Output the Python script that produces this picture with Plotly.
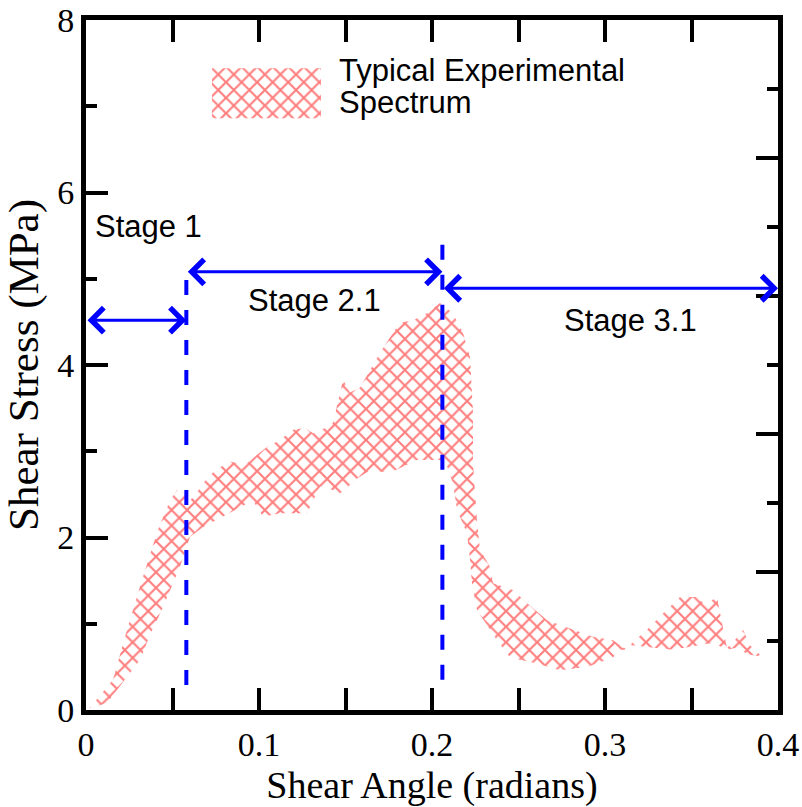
import plotly.graph_objects as go

# Upper and lower edges of the typical experimental band (shear angle in rad, stress in MPa)
upper_x = [0.002, 0.0156, 0.0237, 0.0324, 0.0416, 0.0486, 0.0526, 0.056, 0.059, 0.063,
           0.0676, 0.0746, 0.0832, 0.0919, 0.0965, 0.1046, 0.1121, 0.1197, 0.1266, 0.1312,
           0.1382, 0.1428, 0.1486, 0.1526, 0.1584, 0.1642, 0.1699, 0.1757, 0.1815, 0.189,
           0.1971, 0.2046, 0.2121, 0.2179, 0.222, 0.2237, 0.2237, 0.226, 0.2277, 0.2335,
           0.2353, 0.2468, 0.2549, 0.2665, 0.278, 0.2931, 0.3046, 0.3087, 0.3127, 0.3162,
           0.3243, 0.3335, 0.3434, 0.3532, 0.3578, 0.3647, 0.3682, 0.3705, 0.375, 0.3798,
           0.3838, 0.3896, 0.3942]
upper_y = [0.02, 0.35, 0.93, 1.51, 2.09, 2.43, 2.55, 2.53, 2.41, 2.49,
           2.63, 2.78, 2.88, 2.84, 2.92, 3.05, 3.13, 3.25, 3.27, 3.21,
           3.27, 3.33, 3.83, 3.68, 3.74, 3.94, 4.14, 4.32, 4.49, 4.52,
           4.60, 4.72, 4.60, 4.37, 4.09, 3.44, 2.86, 2.20, 1.86, 1.66,
           1.47, 1.39, 1.24, 1.04, 0.96, 0.85, 0.81, 0.75, 0.70, 0.79,
           0.93, 1.12, 1.31, 1.31, 1.22, 1.31, 0.96, 0.72, 0.81, 0.93,
           0.75, 0.64, 0.61]

lower_x = [0.002, 0.0121, 0.0225, 0.0312, 0.037, 0.0445, 0.0543, 0.0601, 0.0676, 0.0792,
           0.089, 0.0965, 0.1023, 0.1121, 0.1277, 0.1353, 0.1428, 0.1451, 0.1497, 0.1555,
           0.1642, 0.1757, 0.1913, 0.2075, 0.2121, 0.2145, 0.2202, 0.222, 0.2231, 0.226,
           0.2376, 0.2451, 0.2607, 0.274, 0.2896, 0.3046, 0.3087, 0.3127, 0.3162, 0.3243,
           0.3393, 0.3624, 0.3705, 0.375, 0.3838, 0.3942]
lower_y = [0.02, 0.08, 0.35, 0.58, 0.87, 1.19, 1.66, 2.01, 2.12, 2.24,
           2.35, 2.43, 2.24, 2.28, 2.28, 2.59, 2.55, 2.49, 2.55, 2.67,
           2.78, 2.75, 2.90, 2.90, 2.63, 2.32, 2.05, 1.74, 1.47, 1.16,
           0.81, 0.61, 0.54, 0.46, 0.50, 0.61, 0.70, 0.70, 0.75, 0.73,
           0.70, 0.78, 0.70, 0.72, 0.64, 0.61]

# Stage boundaries (dashed verticals)
boundary_x = [0.058, 0.206]
boundary_top = [5.12, 5.50]
boundary_bottom = [0.29, 0.35]

# Stage spans drawn as double-headed arrows
stage_names = ["Stage 1", "Stage 2.1", "Stage 3.1"]
stage_start = [0.0, 0.058, 0.206]
stage_end = [0.058, 0.206, 0.4]
stage_arrow_y = [4.52, 5.08, 4.89]
stage_label_x = [0.036, 0.132, 0.3145]
stage_label_y = [5.61, 4.75, 4.52]

x_ticks = [0, 0.1, 0.2, 0.3, 0.4]
x_tick_text = ["0", "0.1", "0.2", "0.3", "0.4"]
y_ticks = [0, 2, 4, 6, 8]

legend_label = ["Typical Experimental", "Spectrum"]

RED = "#ff0000"
BLUE = "#0000ff"
SERIF = "Times New Roman, Liberation Serif, serif"
SANS = "Arial, Liberation Sans, sans-serif"

hatch = dict(shape="x", fgcolor=RED, bgcolor="rgba(0,0,0,0)", size=11, solidity=0.35)

fig = go.Figure()

# Band polygon: upper edge left-to-right, lower edge back right-to-left
fig.add_trace(go.Scatter(
    x=upper_x + lower_x[::-1],
    y=upper_y + lower_y[::-1],
    mode="lines", fill="toself", fillcolor="rgba(0,0,0,0)",
    fillpattern=hatch, line=dict(width=0), hoverinfo="skip", showlegend=False,
))

# Legend swatch placed in the upper part of the plot
sw_x0, sw_x1, sw_y0, sw_y1 = 0.0728, 0.1358, 6.86, 7.44
fig.add_trace(go.Scatter(
    x=[sw_x0, sw_x1, sw_x1, sw_x0, sw_x0],
    y=[sw_y0, sw_y0, sw_y1, sw_y1, sw_y0],
    mode="lines", fill="toself", fillcolor="rgba(0,0,0,0)",
    fillpattern=hatch, line=dict(width=0), hoverinfo="skip", showlegend=False,
))
fig.add_annotation(x=0.145, y=7.42, xref="x", yref="y", text=legend_label[0],
                   showarrow=False, xanchor="left", yanchor="middle",
                   font=dict(family=SANS, size=31, color="black"))
fig.add_annotation(x=0.145, y=7.04, xref="x", yref="y", text=legend_label[1],
                   showarrow=False, xanchor="left", yanchor="middle",
                   font=dict(family=SANS, size=31, color="black"))

# Dashed stage boundaries
for bx, bt, bb in zip(boundary_x, boundary_top, boundary_bottom):
    fig.add_trace(go.Scatter(
        x=[bx, bx], y=[bb, bt], mode="lines",
        line=dict(color=BLUE, width=4, dash="15px,15px"),
        hoverinfo="skip", showlegend=False,
    ))

# Stage arrows and labels
for name, xs, xe, ay, lx, ly in zip(stage_names, stage_start, stage_end,
                                    stage_arrow_y, stage_label_x, stage_label_y):
    fig.add_annotation(x=xe, y=ay, ax=xs, ay=ay, xref="x", yref="y",
                       axref="x", ayref="y", text="", showarrow=True,
                       arrowhead=4, startarrowhead=4, arrowside="end+start",
                       arrowsize=1.6, startarrowsize=1.6, arrowwidth=3,
                       arrowcolor=BLUE)
    fig.add_annotation(x=lx, y=ly, xref="x", yref="y", text=name,
                       showarrow=False, font=dict(family=SANS, size=31, color="black"))

# Invisible trace so the right-hand axis is drawn
fig.add_trace(go.Scatter(x=[0], y=[0], yaxis="y2", mode="markers",
                         marker=dict(opacity=0), hoverinfo="skip", showlegend=False))

axis_common = dict(
    showline=True, linecolor="black", linewidth=5, showgrid=False, zeroline=False,
    ticks="inside", ticklen=22, tickwidth=4, tickcolor="black", automargin=False,
)

fig.update_layout(
    width=802, height=807,
    margin=dict(l=86, r=24, t=20, b=97),
    paper_bgcolor="white", plot_bgcolor="white",
    showlegend=False,
    xaxis=dict(
        **axis_common, range=[0, 0.4], tickvals=x_ticks, ticktext=x_tick_text,
        mirror="allticks",
        minor=dict(ticks="inside", ticklen=11, tickwidth=4, tickcolor="black", dtick=0.05),
        tickfont=dict(family=SERIF, size=34, color="black"),
        title=dict(text="Shear Angle (radians)",
                   font=dict(family=SERIF, size=38, color="black")),
    ),
    yaxis=dict(
        **axis_common, range=[0, 8], tickvals=y_ticks,
        minor=dict(ticks="inside", ticklen=11, tickwidth=4, tickcolor="black", dtick=1),
        tickfont=dict(family=SERIF, size=34, color="black"),
        title=dict(text="Shear Stress (MPa)",
                   font=dict(family=SERIF, size=43, color="black")),
    ),
    yaxis2=dict(
        **axis_common, range=[0, 10], overlaying="y", side="right", dtick=2,
        showticklabels=False,
        minor=dict(ticks="inside", ticklen=11, tickwidth=4, tickcolor="black", dtick=1),
    ),
)

fig.write_html("out.html")
